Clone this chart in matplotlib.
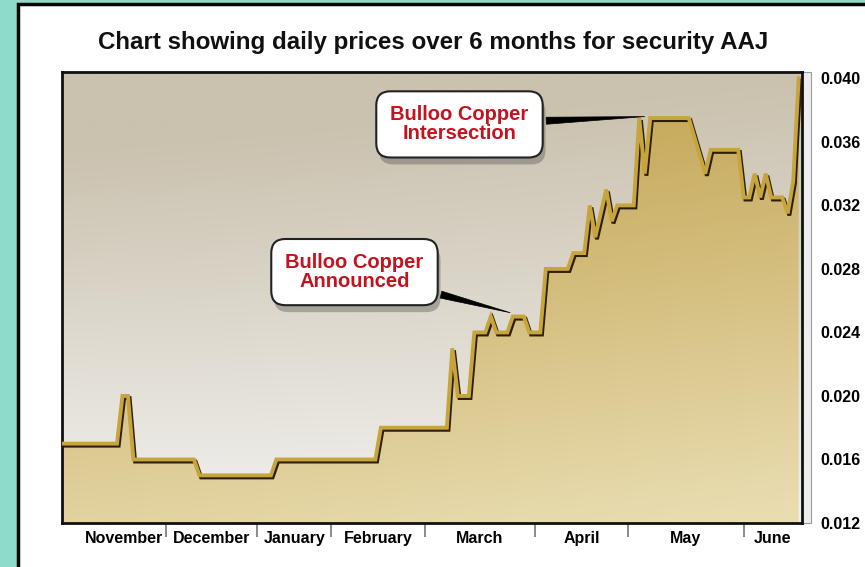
import numpy as np
import matplotlib
matplotlib.use("Agg")
import matplotlib.pyplot as plt
from matplotlib.patches import Polygon, Rectangle
from matplotlib import patheffects as pe

# breakpoints of the daily price line (trading day index, price)
days = [0, 10, 11, 12, 13, 24, 25, 38, 39, 57, 58, 70, 71, 72, 74, 75, 77, 78, 79,
        81, 82, 84, 85, 87, 88, 92, 93, 95, 96, 97, 99, 100, 101, 104, 105, 106,
        107, 114, 117, 118, 123, 124, 125, 126, 127, 128, 129, 131, 132, 133, 134]
prices = [0.017, 0.017, 0.020, 0.020, 0.016, 0.016, 0.015, 0.015, 0.016, 0.016,
          0.018, 0.018, 0.023, 0.020, 0.020, 0.024, 0.024, 0.025, 0.024, 0.024,
          0.025, 0.025, 0.024, 0.024, 0.028, 0.028, 0.029, 0.029, 0.032, 0.030,
          0.033, 0.031, 0.032, 0.032, 0.0375, 0.034, 0.0375, 0.0375, 0.034, 0.0355,
          0.0355, 0.0325, 0.0325, 0.034, 0.0325, 0.034, 0.0325, 0.0325, 0.0315,
          0.0335, 0.040]

months = ["November", "December", "January", "February", "March", "April", "May", "June"]
month_edges = [3.5, 19, 35.5, 49, 66, 86, 103, 124, 134.6]
yticks = [0.012, 0.016, 0.020, 0.024, 0.028, 0.032, 0.036, 0.040]

title = "Chart showing daily prices over 6 months for security AAJ"
notes = ["Bulloo Copper\nIntersection", "Bulloo Copper\nAnnounced"]
note_points = [(106.5, 0.0376), (82, 0.0252)]
note_text_pos = [(72.3, 0.0371), (53.2, 0.0278)]

plt.rcParams["font.family"] = ["Liberation Sans", "DejaVu Sans"]
plt.rcParams["font.weight"] = "bold"

W, H = 865, 567
fig = plt.figure(figsize=(W / 100, H / 100), dpi=100, facecolor="#8edbc9")
fig.patches.append(Rectangle((18 / W, -0.05), 1.2, (H - 4) / H + 0.05,
                             transform=fig.transFigure, fc="white", ec="black",
                             lw=2.5, zorder=-2))
# light grey side strip right of the plot
fig.patches.append(Rectangle((802 / W, 44 / H), 9 / W, 451 / H,
                             transform=fig.transFigure, fc="#eeeeee", ec="#9a9a9a",
                             lw=0.8, zorder=-1))

ax = fig.add_axes([62 / W, 44 / H, 740 / W, 451 / H])
xmin, xmax = 0, 134.6
ymin, ymax = 0.012, 0.0404
ax.set_xlim(xmin, xmax)
ax.set_ylim(ymin, ymax)

# background gradient
ny, nx = 200, 200
yy = np.linspace(0, 1, ny)[:, None]
xx = np.linspace(0, 1, nx)[None, :]
top = np.array([202, 193, 174]) / 255
bot = np.array([240, 239, 236]) / 255
t = np.clip(1.05 * yy + 0.2 * yy * (1 - xx) - 0.05, 0, 1)
bg = bot[None, None, :] + (top - bot)[None, None, :] * t[..., None]
ax.imshow(bg, extent=[xmin, xmax, ymin, ymax], origin="lower", aspect="auto",
          zorder=0, interpolation="bilinear")

# gold gradient for the area under the line
ftop = np.array([200, 172, 96]) / 255
fbot = np.array([232, 220, 176]) / 255
tf = np.clip(1.15 * yy + 0.25 * (1 - xx) - 0.05, 0, 1)
fg = fbot[None, None, :] + (ftop - fbot)[None, None, :] * tf[..., None]
im = ax.imshow(fg, extent=[xmin, xmax, ymin, ymax], origin="lower", aspect="auto",
               zorder=1, interpolation="bilinear")
verts = [(days[0], ymin)] + list(zip(days, prices)) + [(days[-1], ymin)]
clip = Polygon(verts, closed=True, transform=ax.transData, fc="none", ec="none")
ax.add_patch(clip)
im.set_clip_path(clip)

ax.plot(days, prices, color="#c6a53c", lw=2.8, zorder=3, solid_joinstyle="miter",
        path_effects=[pe.SimpleLineShadow(offset=(1.2, -1.5), shadow_color="#241605",
                                          alpha=0.95), pe.Normal()])

for sp in ax.spines.values():
    sp.set_linewidth(2)
    sp.set_color("#111111")

# y axis on the right
ax.yaxis.tick_right()
ax.set_yticks(yticks)
ax.set_yticklabels(["%.3f" % v for v in yticks], fontsize=11.5, fontweight="bold")
ax.tick_params(axis="y", length=0, pad=13)

# month boundaries as ticks, names between them
ax.set_xticks(month_edges[1:-1])
ax.set_xticklabels([])
ax.tick_params(axis="x", which="major", length=10, width=1.2, color="#777777", direction="out")
centers = [(a + b) / 2 for a, b in zip(month_edges[:-1], month_edges[1:])]
ax.set_xticks(centers, minor=True)
ax.set_xticklabels(months, minor=True, fontsize=11.5, fontweight="bold")
ax.tick_params(axis="x", which="minor", length=0, pad=6)

fig.text(433 / W, 1 - 42 / H, title, ha="center", va="center", fontsize=17.4,
         fontweight="bold", color="#111111")

for txt, pt, pos in zip(notes, note_points, note_text_pos):
    a = ax.annotate(txt, xy=pt, xytext=pos, ha="center", va="center",
                    fontsize=14.5, fontweight="bold", color="#c4121f", linespacing=1.0,
                    zorder=6,
                    bbox=dict(boxstyle="round,pad=0.7,rounding_size=0.7", fc="white",
                              ec="#222222", lw=1.5),
                    arrowprops=dict(arrowstyle="wedge,tail_width=0.35,shrink_factor=0.5",
                                    fc="black", ec="black", lw=0.5))
    a.get_bbox_patch().set_path_effects([
        pe.SimplePatchShadow(offset=(2, -5), shadow_rgbFace="#555555", alpha=0.4),
        pe.Normal()])

fig.savefig("out.png", dpi=100, facecolor=fig.get_facecolor())
